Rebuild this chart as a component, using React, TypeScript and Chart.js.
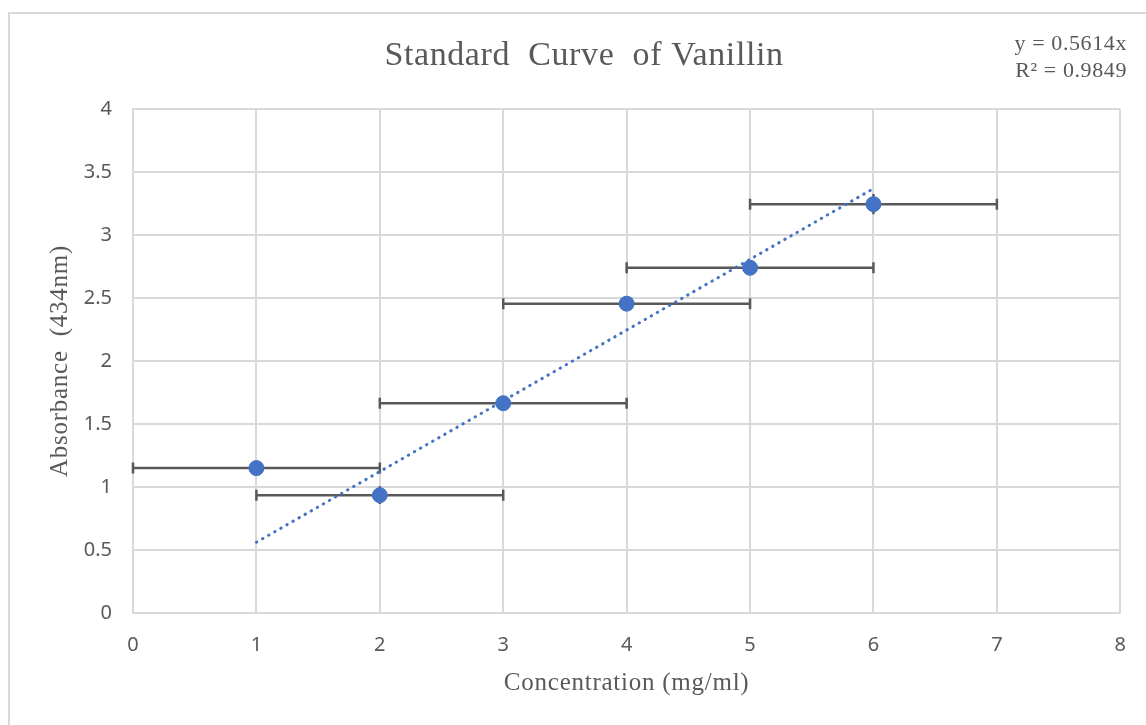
import React, { useEffect, useRef } from "react";
import { Chart, registerables } from "chart.js";

Chart.register(...registerables);

const concentration = [1, 2, 3, 4, 5, 6];
const absorbance = [1.15, 0.935, 1.665, 2.455, 2.74, 3.245];
const xError = [1, 1, 1, 1, 1, 1];
const yError = [0.02, 0.07, 0.03, 0.03, 0.03, 0.08];
const trendX = [1, 6];
const trendY = [0.5614, 3.3684];
const xTicks = [0, 1, 2, 3, 4, 5, 6, 7, 8];
const yTicks = [0, 0.5, 1, 1.5, 2, 2.5, 3, 3.5, 4];
const titleText = "Standard  Curve  of Vanillin";
const equationLines = ["y = 0.5614x", "R\u00B2 = 0.9849"];
const xTitle = "Concentration (mg/ml)";
const yTitle = "Absorbance  (434nm)";

const GREY = "#595959";
const GRID = "#d9d9d9";
const BLUE = "#4472C4";
const SERIF = '"Liberation Serif", "Times New Roman", serif';

const errorBarPlugin = {
  id: "errorBars",
  beforeDatasetsDraw(chart: any) {
    const ctx = chart.ctx;
    const xs = chart.scales.x;
    const ys = chart.scales.y;
    ctx.save();
    ctx.strokeStyle = GREY;
    ctx.lineWidth = 2.5;
    const cap = 5.5;
    concentration.forEach((cx, i) => {
      const cy = absorbance[i];
      const py = ys.getPixelForValue(cy);
      const x0 = xs.getPixelForValue(cx - xError[i]);
      const x1 = xs.getPixelForValue(cx + xError[i]);
      ctx.beginPath();
      ctx.moveTo(x0, py);
      ctx.lineTo(x1, py);
      ctx.moveTo(x0, py - cap);
      ctx.lineTo(x0, py + cap);
      ctx.moveTo(x1, py - cap);
      ctx.lineTo(x1, py + cap);
      const px = xs.getPixelForValue(cx);
      const y0 = ys.getPixelForValue(cy - yError[i]);
      const y1 = ys.getPixelForValue(cy + yError[i]);
      ctx.moveTo(px, y0);
      ctx.lineTo(px, y1);
      ctx.stroke();
    });
    ctx.restore();
  },
};

const textPlugin = {
  id: "texts",
  afterDraw(chart: any) {
    const ctx = chart.ctx;
    const area = chart.chartArea;
    ctx.save();
    ctx.fillStyle = GREY;
    ctx.textBaseline = "middle";
    ctx.textAlign = "center";
    ctx.font = `34px ${SERIF}`;
    (ctx as any).letterSpacing = "0.6px";
    ctx.fillText(titleText, 584, 56);
    ctx.textAlign = "right";
    ctx.font = `22px ${SERIF}`;
    (ctx as any).letterSpacing = "0.6px";
    ctx.fillText(equationLines[0], 1127, 44);
    ctx.fillText(equationLines[1], 1127, 71);
    ctx.textAlign = "center";
    ctx.font = `25px ${SERIF}`;
    (ctx as any).letterSpacing = "0.75px";
    ctx.fillText(xTitle, (area.left + area.right) / 2, 683);
    ctx.translate(60, (area.top + area.bottom) / 2);
    ctx.rotate(-Math.PI / 2);
    ctx.fillText(yTitle, 0, 0);
    ctx.restore();
  },
};

export default function App() {
  const ref = useRef<HTMLCanvasElement>(null);
  useEffect(() => {
    if (!ref.current) return;
    const chart = new Chart(ref.current, {
      type: "scatter",
      data: {
        datasets: [
          {
            label: "Absorbance",
            data: concentration.map((x, i) => ({ x, y: absorbance[i] })),
            backgroundColor: BLUE,
            borderColor: BLUE,
            pointRadius: 7.5,
            pointHoverRadius: 7.5,
            order: 0,
          },
          {
            label: "Trend",
            type: "line",
            data: trendX.map((x, i) => ({ x, y: trendY[i] })),
            borderColor: BLUE,
            borderWidth: 3,
            borderDash: [0.5, 6.5],
            borderCapStyle: "round",
            pointRadius: 0,
            fill: false,
            order: 1,
          } as any,
        ],
      },
      options: {
        responsive: false,
        animation: false,
        devicePixelRatio: 1,
        layout: { padding: { left: 48, top: 109, right: 21, bottom: 30 } },
        plugins: {
          legend: { display: false },
          tooltip: { enabled: false },
          title: { display: false },
        },
        scales: {
          x: {
            type: "linear",
            min: 0,
            max: 8,
            afterBuildTicks: (s: any) => {
              s.ticks = xTicks.map((v) => ({ value: v }));
            },
            afterFit: (s: any) => {
              s.height = 82;
            },
            ticks: {
              color: GREY,
              padding: 20,
              font: { family: '"Noto Sans", sans-serif', size: 20 },
              callback: (v: any) => String(v),
            },
            grid: { color: GRID, lineWidth: 2, drawTicks: false },
            border: { color: GRID, width: 2 },
          },
          y: {
            type: "linear",
            min: 0,
            max: 4,
            afterBuildTicks: (s: any) => {
              s.ticks = yTicks.map((v) => ({ value: v }));
            },
            afterFit: (s: any) => {
              s.width = 85;
            },
            ticks: {
              color: GREY,
              padding: 21,
              font: { family: '"Noto Sans", sans-serif', size: 20 },
              callback: (v: any) => String(v),
            },
            grid: { color: GRID, lineWidth: 2, drawTicks: false },
            border: { color: GRID, width: 2 },
          },
        },
      },
      plugins: [errorBarPlugin, textPlugin],
    });
    return () => chart.destroy();
  }, []);

  return (
    <div style={{ position: "fixed", left: 0, top: 0, width: 1146, height: 725, overflow: "hidden", background: "#fff" }}>
      <div
        style={{
          position: "absolute",
          left: 8,
          top: 12,
          width: 1200,
          height: 800,
          border: `2px solid ${GRID}`,
        }}
      />
      <canvas ref={ref} width={1146} height={725} style={{ position: "absolute", left: 0, top: 0 }} />
    </div>
  );
}
